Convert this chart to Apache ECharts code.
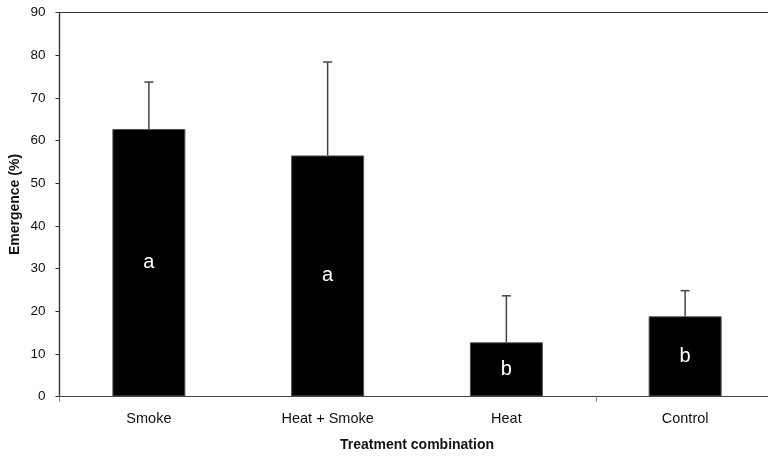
<!DOCTYPE html>
<html><head><meta charset="utf-8">
<script src="https://cdn.jsdelivr.net/npm/echarts@6/dist/echarts.min.js"></script>
<style>html,body{margin:0;padding:0;background:#fff}#c{width:768px;height:457px}</style>
</head><body><div id="c"></div>
<script>
const categories = ['Smoke', 'Heat + Smoke', 'Heat', 'Control'];
const means = [62.7, 56.5, 12.7, 18.8];
const upperErr = [73.7, 78.4, 23.6, 24.8];
const letters = ['a', 'a', 'b', 'b'];
const yTicks = [0, 10, 20, 30, 40, 50, 60, 70, 80, 90];

const font = '"Liberation Sans", Arial, Helvetica, sans-serif';
const chart = echarts.init(document.getElementById('c'));
chart.setOption({
  animation: false,
  grid: { left: 59.5, width: 715, top: 12.5, height: 384, outerBoundsMode: 'none', containLabel: false, show: true, borderColor: '#333', borderWidth: 1.2, backgroundColor: 'transparent' },
  xAxis: {
    type: 'category', data: categories,
    axisLine: { lineStyle: { color: '#444', width: 1.2 } },
    axisTick: { show: true, length: 5, lineStyle: { color: '#888' }, interval: 2 },
    axisLabel: { color: '#111', fontFamily: font, fontSize: 14.5, margin: 15 },
    name: 'Treatment combination', nameLocation: 'middle', nameGap: 42,
    nameTextStyle: { fontFamily: font, fontWeight: 'bold', fontSize: 14, color: '#111' }
  },
  yAxis: {
    type: 'value', min: yTicks[0], max: yTicks[yTicks.length - 1], interval: 10,
    splitLine: { show: false },
    axisLine: { show: true, lineStyle: { color: '#333', width: 1.2 } },
    axisTick: { show: true, length: 4, lineStyle: { color: '#333' } },
    axisLabel: { color: '#111', fontFamily: font, fontSize: 13.5, margin: 14 },
    name: 'Emergence (%)', nameLocation: 'middle', nameGap: 37, nameMoveOverlap: false,
    nameTextStyle: { fontFamily: font, fontWeight: 'bold', fontSize: 14, color: '#111' }
  },
  series: [
    {
      type: 'bar', data: means.map((v, i) => ({ value: v, label: { formatter: letters[i] } })),
      barWidth: 73,
      itemStyle: { color: '#000', borderColor: '#555', borderWidth: 1 },
      label: { show: true, position: 'inside', color: '#fff', fontFamily: font, fontSize: 20 },
      z: 2
    },
    {
      type: 'custom',
      data: means.map((m, i) => [i, m, upperErr[i]]),
      renderItem: function (params, api) {
        const x = api.coord([api.value(0), api.value(1)])[0];
        const yb = api.coord([api.value(0), api.value(1)])[1];
        const yt = api.coord([api.value(0), api.value(2)])[1];
        const st = { stroke: '#444', lineWidth: 1.5 };
        return {
          type: 'group', children: [
            { type: 'line', shape: { x1: x, y1: yb, x2: x, y2: yt }, style: st },
            { type: 'line', shape: { x1: x - 4.5, y1: yt, x2: x + 4.5, y2: yt }, style: st }
          ]
        };
      },
      z: 3
    }
  ]
});
</script></body></html>
